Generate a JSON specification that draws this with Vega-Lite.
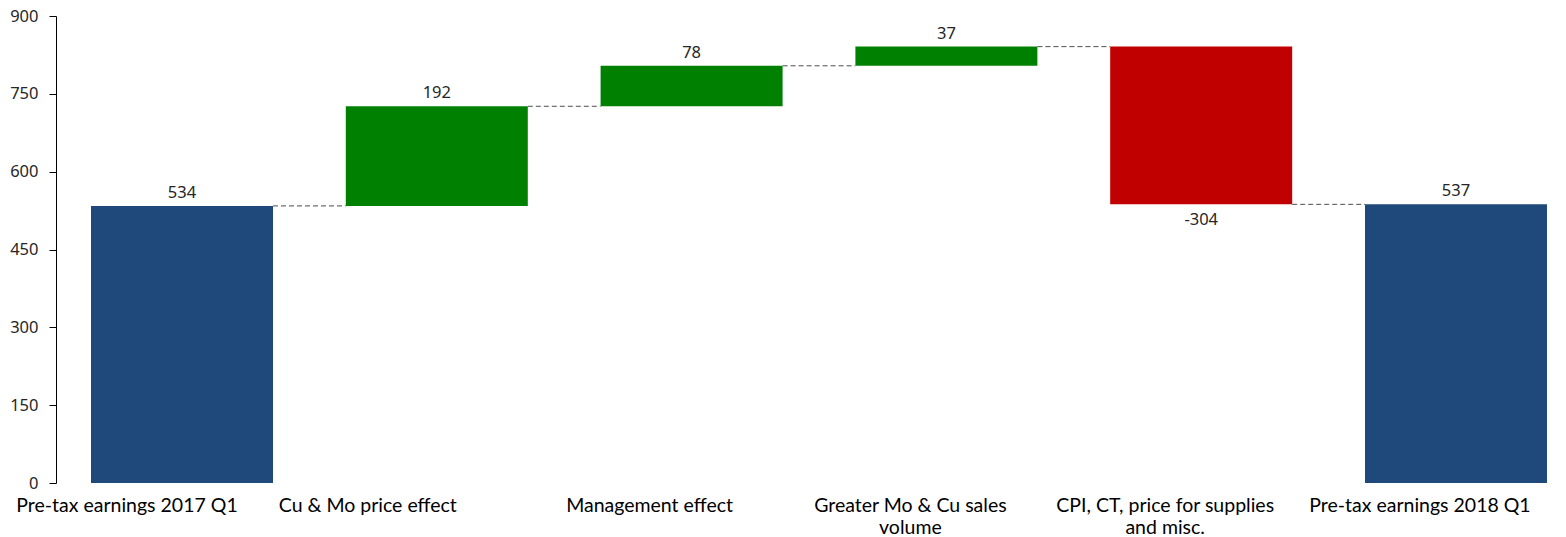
{
  "$schema": "https://vega.github.io/schema/vega-lite/v6.json",
  "autosize": "none",
  "width": 1510,
  "height": 467,
  "padding": {"left": 56, "top": 16, "right": 0, "bottom": 54},
  "background": "white",
  "config": {"view": {"stroke": null}},
  "datasets": {
    "steps": [
      {"cat": "Pre-tax earnings 2017 Q1", "start": 0, "end": 534, "value": 534, "kind": "total"},
      {"cat": "Cu & Mo price effect", "start": 534, "end": 726, "value": 192, "kind": "up"},
      {"cat": "Management effect", "start": 726, "end": 804, "value": 78, "kind": "up"},
      {"cat": "Greater Mo & Cu sales volume", "start": 804, "end": 841, "value": 37, "kind": "up"},
      {"cat": "CPI, CT, price for supplies and misc.", "start": 841, "end": 537, "value": -304, "kind": "down"},
      {"cat": "Pre-tax earnings 2018 Q1", "start": 0, "end": 537, "value": 537, "kind": "total"}
    ],
    "links": [
      {"from": "Pre-tax earnings 2017 Q1", "to": "Cu & Mo price effect", "level": 534},
      {"from": "Cu & Mo price effect", "to": "Management effect", "level": 726},
      {"from": "Management effect", "to": "Greater Mo & Cu sales volume", "level": 804},
      {"from": "Greater Mo & Cu sales volume", "to": "CPI, CT, price for supplies and misc.", "level": 841},
      {"from": "CPI, CT, price for supplies and misc.", "to": "Pre-tax earnings 2018 Q1", "level": 537}
    ]
  },
  "layer": [
    {
      "data": {"name": "steps"},
      "mark": {"type": "bar"},
      "encoding": {
        "x": {
          "field": "cat",
          "type": "nominal",
          "sort": null,
          "scale": {
            "domain": ["Pre-tax earnings 2017 Q1", "Cu & Mo price effect", "Management effect", "Greater Mo & Cu sales volume", "CPI, CT, price for supplies and misc.", "Pre-tax earnings 2018 Q1"],
            "paddingInner": 0.2857,
            "paddingOuter": 0.106,
            "align": 0.648
          },
          "axis": {
            "title": null,
            "domain": false,
            "ticks": false,
            "labelAngle": 0,
            "labelFont": "Lato",
            "labelFontSize": 19.5,
            "labelColor": "#000000",
            "labelPadding": 13,
            "labelOffset": {
              "condition": [
                {"test": "datum.value == 'Pre-tax earnings 2017 Q1'", "value": -55},
                {"test": "datum.value == 'Cu & Mo price effect'", "value": -69},
                {"test": "datum.value == 'Management effect'", "value": -42}
              ],
              "value": -36
            },
            "labelLimit": 0,
            "labelLineHeight": 22,
            "labelBaseline": "top",
            "labelExpr": "datum.label == 'Greater Mo & Cu sales volume' ? ['Greater Mo & Cu sales', 'volume'] : datum.label == 'CPI, CT, price for supplies and misc.' ? ['CPI, CT, price for supplies', 'and misc.'] : datum.label"
          }
        },
        "y": {
          "field": "start",
          "type": "quantitative",
          "scale": {"domain": [0, 900], "nice": false, "zero": true},
          "axis": {
            "title": null,
            "grid": false,
            "values": [0, 150, 300, 450, 600, 750, 900],
            "domainColor": "#000000",
            "tickColor": "#000000",
            "tickSize": 7,
            "labelPadding": 11,
            "labelFont": "Noto Sans",
            "labelFontSize": 16.5,
            "labelColor": "#262626"
          }
        },
        "y2": {"field": "end"},
        "color": {
          "field": "kind",
          "type": "nominal",
          "scale": {"domain": ["total", "up", "down"], "range": ["#1F497B", "#008000", "#C00000"]},
          "legend": null
        }
      }
    },
    {
      "data": {"name": "links"},
      "mark": {"type": "rule", "color": "#4D4D4D", "strokeWidth": 1, "strokeDash": [5, 3]},
      "encoding": {
        "x": {"field": "from", "type": "nominal", "bandPosition": 1},
        "x2": {"field": "to", "bandPosition": 0},
        "y": {"field": "level", "type": "quantitative"}
      }
    },
    {
      "data": {"name": "steps"},
      "transform": [{"filter": "datum.value >= 0"}],
      "mark": {"type": "text", "baseline": "alphabetic", "dy": -8, "font": "Noto Sans", "fontSize": 16.5, "color": "#262626"},
      "encoding": {
        "x": {"field": "cat", "type": "nominal"},
        "y": {"field": "end", "type": "quantitative"},
        "text": {"field": "value", "type": "nominal"}
      }
    },
    {
      "data": {"name": "steps"},
      "transform": [{"filter": "datum.value < 0"}],
      "mark": {"type": "text", "baseline": "alphabetic", "dy": 21, "font": "Noto Sans", "fontSize": 16.5, "color": "#262626"},
      "encoding": {
        "x": {"field": "cat", "type": "nominal"},
        "y": {"field": "end", "type": "quantitative"},
        "text": {"field": "value", "type": "nominal"}
      }
    }
  ]
}
